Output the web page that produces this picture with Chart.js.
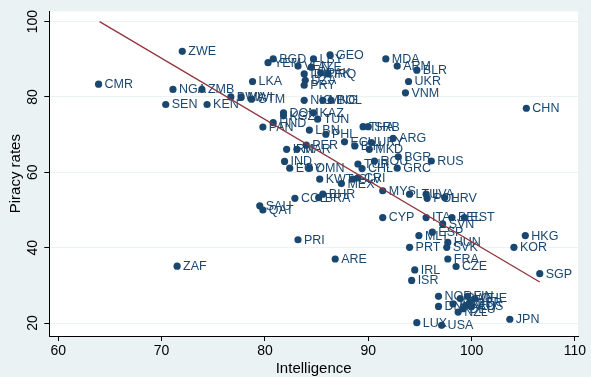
<!DOCTYPE html>
<html><head><meta charset="utf-8">
<script src="https://cdn.jsdelivr.net/npm/chart.js@4.4.0/dist/chart.umd.min.js"></script>
<style>html,body{margin:0;padding:0;background:#eaf2f3}#wrap{width:591px;height:377px}</style>
</head><body><div id="wrap"><canvas id="c" width="591" height="377"></canvas></div>
<script>
const countries = ["CMR","ZWE","NGA","SEN","ZMB","KEN","ZAF","BWA","MWI","GTM","LKA","YEM","BGD","LBY","GEO","VEN","AZE","IDN","PAK","IRQ","DZA","PRY","NIC","MNG","BOL","MDA","ARM","BLR","UKR","VNM","CHN","DOM","KGZ","KAZ","TUN","HND","PAN","LBN","PHL","THA","SRB","ECU","BIH","URY","MKD","ARG","IRN","MAR","PER","IND","EGY","OMN","TUR","CHL","ROU","BGR","GRC","RUS","KWT","MEX","SLV","CRI","BHR","BRA","COL","SAU","QAT","PRI","ARE","MYS","LTU","LVA","POL","HRV","CYP","ITA","BEL","EST","SVN","ESP","MLT","HUN","SVK","PRT","FRA","CZE","IRL","ISR","HKG","KOR","SGP","NOR","DNK","FIN","SWE","AUT","DEU","GBR","CHE","NLD","AUS","NZL","LUX","USA","JPN"];
const intelligence = [63.9,72.0,71.1,70.4,73.9,74.4,71.5,76.7,77.7,78.7,78.8,80.3,80.8,84.7,86.3,83.2,84.5,83.8,85.4,86.1,83.9,83.8,83.8,85.6,86.4,91.7,92.8,94.7,93.9,93.6,105.3,81.8,81.8,84.7,85.1,80.8,79.8,84.3,85.9,89.5,90.0,87.7,88.7,90.3,90.1,92.4,82.1,83.1,84.0,81.9,82.4,84.3,89.0,89.4,90.6,92.9,92.8,96.1,85.3,87.4,88.5,89.0,85.6,85.2,82.9,79.5,79.8,83.2,86.8,91.4,94.0,95.6,95.7,97.4,91.4,95.6,98.1,99.3,97.2,96.2,94.9,97.7,97.6,94.0,97.7,98.5,94.5,94.2,105.2,104.1,106.6,96.8,96.8,99.6,98.9,98.2,99.2,99.8,100.3,99.4,100.0,98.7,94.7,97.1,103.7];
const piracy = [83.4,92.1,82.0,78.0,82.0,78.0,35.1,80.0,80.0,79.4,84.1,89.1,90.1,90.1,91.2,88.2,87.9,86.1,86.4,86.1,84.4,83.1,79.1,79.1,79.1,90.1,88.2,87.1,84.1,81.1,77.0,75.8,75.0,75.8,74.1,73.2,72.0,71.2,70.1,72.1,72.1,68.1,67.0,67.9,66.1,69.0,66.1,66.1,67.2,62.9,61.1,61.2,62.2,61.0,63.0,64.1,61.1,63.0,58.2,57.0,58.2,58.5,54.2,53.3,53.1,51.1,50.0,42.1,37.0,55.1,54.2,54.2,53.1,53.3,48.0,48.0,48.0,48.0,46.3,44.1,43.2,41.4,40.1,40.1,37.0,35.0,34.1,31.3,43.2,40.1,33.1,27.1,24.4,27.1,26.5,25.1,23.8,25.4,26.5,24.6,24.4,22.9,20.1,19.4,21.0];
const fitIntelligence = [64.0, 106.6];
const fitPiracy = [100.0, 30.9];
const xTicks = [60, 70, 80, 90, 100, 110];
const yTicks = [20, 40, 60, 80, 100];

const NAVY = '#1a476f', MAROON = '#90353b', BG = '#eaf2f3';
const FONT = "'Liberation Sans', Arial, sans-serif";

const bgPlugin = {
  id: 'bg',
  beforeDraw(chart) {
    const {ctx, chartArea: a} = chart;
    ctx.save();
    ctx.fillStyle = BG;
    ctx.fillRect(0, 0, chart.width, chart.height);
    ctx.fillStyle = '#ffffff';
    ctx.fillRect(a.left, a.top, a.right - a.left, a.bottom - a.top);
    ctx.restore();
  },
  afterDraw(chart) {
    const ctx = chart.ctx, ys = chart.scales.y;
    ctx.save();
    ctx.fillStyle = '#000';
    ctx.font = '14px ' + FONT;
    ctx.textAlign = 'center';
    ctx.textBaseline = 'middle';
    yTicks.forEach(v => {
      const py = ys.getPixelForValue(v);
      ctx.save();
      ctx.translate(33, py);
      ctx.rotate(-Math.PI / 2);
      ctx.fillText(String(v), 0, 0);
      ctx.restore();
    });
    ctx.restore();
  },
  afterDatasetDraw(chart, args) {
    if (args.index !== 0) return;
    const ctx = chart.ctx;
    const meta = chart.getDatasetMeta(0);
    ctx.save();
    ctx.fillStyle = NAVY;
    ctx.font = '12.5px ' + FONT;
    ctx.textAlign = 'left';
    ctx.textBaseline = 'middle';
    meta.data.forEach((pt, i) => {
      ctx.fillText(countries[i], pt.x + 6, pt.y + 0.5);
    });
    ctx.restore();
  }
};

new Chart(document.getElementById('c'), {
  type: 'scatter',
  data: {
    datasets: [
      {
        label: 'Piracy rates',
        data: intelligence.map((x, i) => ({x: x, y: piracy[i]})),
        backgroundColor: NAVY,
        borderColor: NAVY,
        pointRadius: 3.6,
        pointHoverRadius: 3.6,
        borderWidth: 0,
        order: 1
      },
      {
        type: 'line',
        label: 'Fitted values',
        data: fitIntelligence.map((x, i) => ({x: x, y: fitPiracy[i]})),
        borderColor: MAROON,
        borderWidth: 1.3,
        pointRadius: 0,
        fill: false,
        order: 0
      }
    ]
  },
  options: {
    responsive: false,
    animation: false,
    devicePixelRatio: 1,
    layout: {padding: {top: 10, right: 13, left: 0, bottom: 0}},
    plugins: {legend: {display: false}, tooltip: {enabled: false}},
    scales: {
      x: {
        type: 'linear',
        min: 59.13, max: 110.3,
        afterBuildTicks: s => { s.ticks = xTicks.map(v => ({value: v})); },
        afterFit: s => { s.height = 41; },
        grid: {drawOnChartArea: false, drawTicks: true, tickLength: 5, tickColor: '#000', tickWidth: 1},
        border: {color: '#000', width: 1},
        ticks: {color: '#000', font: {size: 14, family: FONT}, padding: 2, maxRotation: 0, autoSkip: false},
        title: {display: true, text: 'Intelligence', color: '#000', font: {size: 15, family: FONT, lineHeight: 1}, padding: {top: 0, bottom: 1}}
      },
      y: {
        type: 'linear',
        min: 16.56, max: 102.7,
        afterBuildTicks: s => { s.ticks = yTicks.map(v => ({value: v})); },
        afterFit: s => { s.width = 49.3; },
        grid: {color: BG, lineWidth: 1, drawTicks: true, tickLength: 5, tickColor: '#000', tickWidth: 1},
        border: {color: '#000', width: 1},
        ticks: {color: 'rgba(0,0,0,0)', font: {size: 14, family: FONT}, autoSkip: false},
        title: {display: true, text: 'Piracy rates', color: '#000', font: {size: 15, family: FONT, lineHeight: 1}, padding: {top: 8, bottom: 0}}
      }
    }
  },
  plugins: [bgPlugin]
});
</script>
</body></html>
